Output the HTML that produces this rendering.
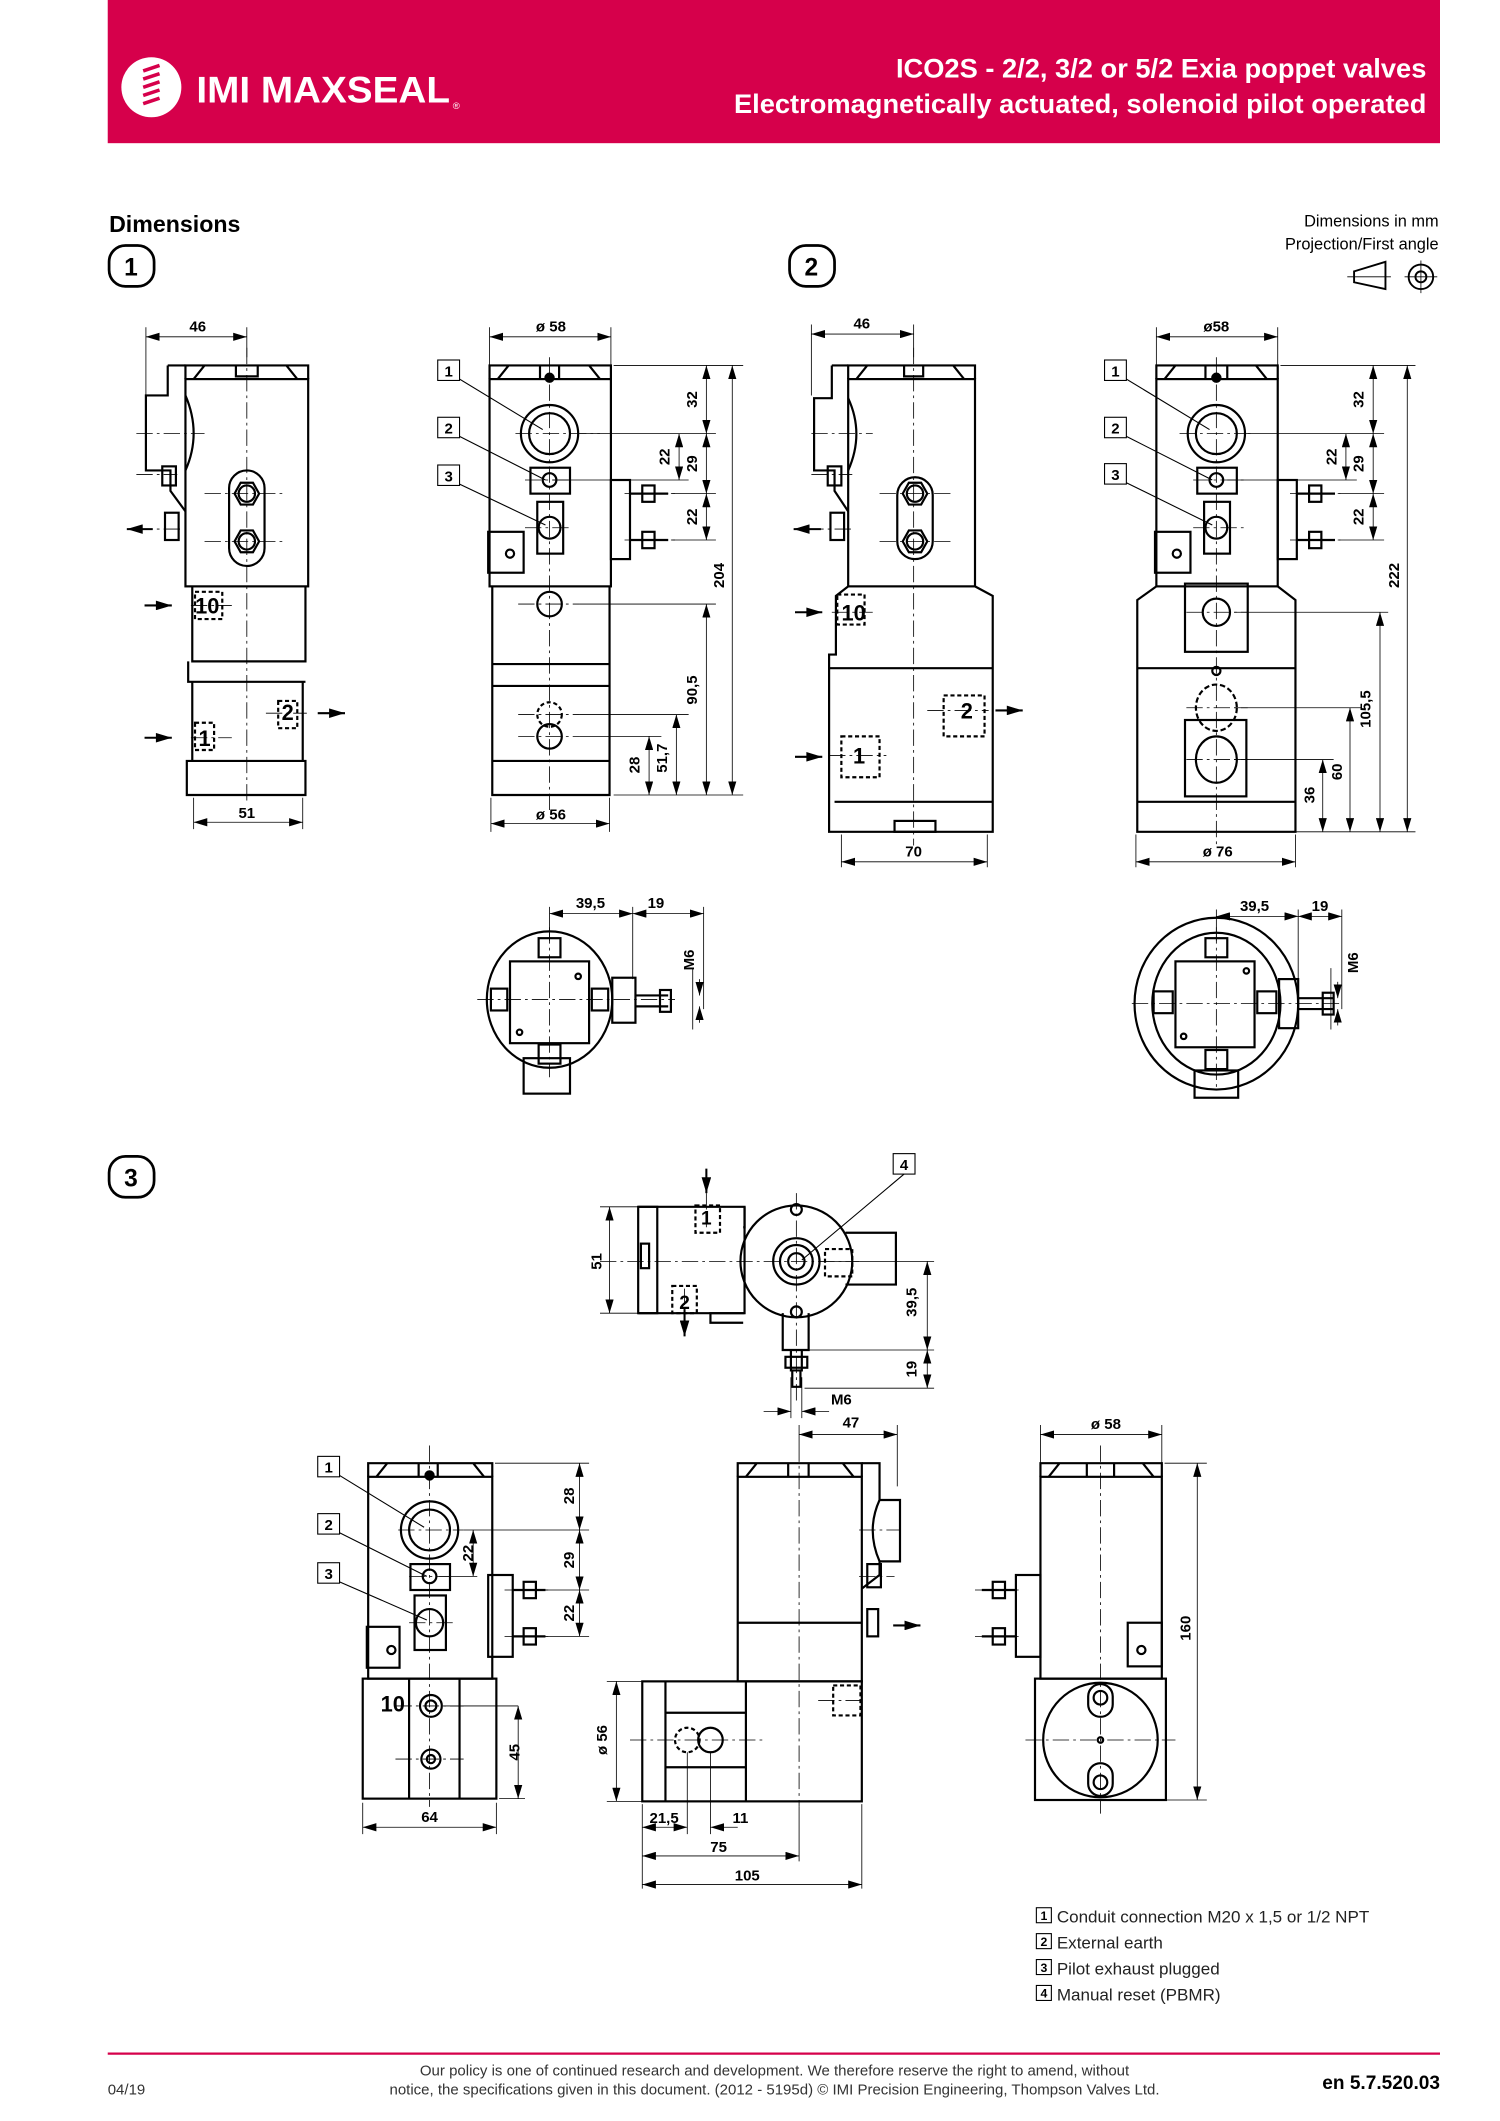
<!DOCTYPE html>
<html><head><meta charset="utf-8"><style>
html,body{margin:0;padding:0;background:#fff}
svg{display:block}
text{font-family:"Liberation Sans",Arial,sans-serif}
</style></head><body>
<svg width="1500" height="2121" viewBox="0 0 1100 1555.4" xmlns="http://www.w3.org/2000/svg">
<defs>
<marker id="a" viewBox="0 0 10 6" refX="10" refY="3" markerWidth="10" markerHeight="6" orient="auto-start-reverse" markerUnits="userSpaceOnUse"><path d="M0,0L10,3L0,6z" fill="#000"/></marker>
<marker id="b" viewBox="0 0 10 6" refX="10" refY="3" markerWidth="12" markerHeight="7" orient="auto" markerUnits="userSpaceOnUse"><path d="M0,0L10,3L0,6z" fill="#000"/></marker>
</defs>
<!-- header -->
<rect x="79" y="0" width="977" height="105" fill="#d6004b"/>
<circle cx="111" cy="64" r="22" fill="#fff"/>
<g stroke="#d6004b" stroke-width="2.6" fill="none"><path d="M105,52l12,-4M105,58l12,-4M105,64l12,-4M105,70l12,-4M105,76l12,-4"/></g>
<text x="144" y="75" font-size="27" font-weight="bold" fill="#fff" textLength="186" lengthAdjust="spacingAndGlyphs">IMI MAXSEAL</text>
<text x="332" y="80" font-size="7" fill="#fff">®</text>
<text x="1046" y="57" font-size="20" font-weight="bold" fill="#fff" text-anchor="end">ICO2S - 2/2, 3/2 or 5/2 Exia poppet valves</text>
<text x="1046" y="83" font-size="20" font-weight="bold" fill="#fff" text-anchor="end">Electromagnetically actuated, solenoid pilot operated</text>
<text x="80" y="170" font-size="17" font-weight="bold">Dimensions</text>
<text x="1055" y="166" font-size="12" text-anchor="end">Dimensions in mm</text>
<text x="1055" y="183" font-size="12" text-anchor="end">Projection/First angle</text>
<g fill="none" stroke="#000" stroke-width="1.4">
<path d="M993,199L1016,192L1016,212L993,207z"/><line x1="988" y1="203" x2="1020" y2="203" stroke-width="0.6"/>
<circle cx="1042" cy="203" r="9"/><circle cx="1042" cy="203" r="4"/><line x1="1030" y1="203" x2="1054" y2="203" stroke-width="0.6"/><line x1="1042" y1="191" x2="1042" y2="215" stroke-width="0.6"/>
<rect x="80" y="180" width="33" height="30" rx="12" stroke-width="2"/>
<rect x="579" y="180" width="33" height="30" rx="12" stroke-width="2"/>
<rect x="80" y="848" width="33" height="30" rx="12" stroke-width="2"/>
</g>
<g font-size="18" font-weight="bold" text-anchor="middle"><text x="96" y="202">1</text><text x="595" y="202">2</text><text x="96" y="870">3</text></g>

<g fill="none" stroke="#000" stroke-width="1.6">
<!-- ===== View 1a ===== -->
<path d="M136,278L136,268L226,268L226,278M142,278L150,268M218,278L210,268M173,268L173,276L189,276L189,268"/>
<rect x="136" y="278" width="90" height="152"/>
<path d="M123,268L136,268M123,268L123,290L107,290L107,345L125,345L125,360L136,375"/>
<path d="M136,290Q148,318 136,345"/>
<rect x="119" y="342" width="10" height="14"/><rect x="121" y="376" width="10" height="20"/>
<rect x="168" y="345" width="26" height="70" rx="13"/>
<circle cx="181" cy="362" r="6"/><circle cx="181" cy="397" r="6"/>
<path d="M172,362l4.5,-8h9l4.5,8l-4.5,8h-9z M172,397l4.5,-8h9l4.5,8l-4.5,8h-9z"/>
<path d="M141,430V485H224V430M138,485V500H224M141,500V558H222V500M137,558H224V583H137z"/>
<rect x="143" y="434" width="20" height="20" stroke-dasharray="3,2"/>
<rect x="143" y="530" width="14" height="20" stroke-dasharray="3,2"/>
<rect x="204" y="514" width="14" height="20" stroke-dasharray="3,2"/>
<!-- ===== View 1b ===== -->
<path d="M359,278L359,268L448,268L448,278M365,278L373,268M440,278L432,268M396,268V278M410,268V278"/>
<rect x="359" y="278" width="89" height="152"/>
<circle cx="403" cy="318" r="21"/><circle cx="403" cy="318" r="15"/>
<rect x="389" y="343" width="29" height="19"/><circle cx="403" cy="352" r="5"/>
<rect x="394" y="368" width="19" height="38"/><circle cx="403" cy="387" r="8"/>
<rect x="358" y="390" width="26" height="30"/><circle cx="374" cy="406" r="3"/>
<rect x="448" y="352" width="14" height="58"/>
<path d="M462,362H490M462,396H490"/><rect x="471" y="356" width="9" height="12"/><rect x="471" y="390" width="9" height="12"/>
<path d="M361,430V583H447V430M361,487H447M361,503H447M361,558H447"/>
<circle cx="403" cy="443" r="9"/><circle cx="403" cy="540" r="9"/><circle cx="403" cy="524" r="9" stroke-dasharray="3,2"/>
<circle cx="403" cy="277" r="3" fill="#000"/>
<!-- ===== View 2a ===== -->
<path d="M622,278L622,268L715,268L715,278M628,278L636,268M707,278L699,268M663,268V276H677V268"/>
<rect x="622" y="278" width="93" height="152"/>
<path d="M610,268H622M610,268V292H597V345H612V360L622,375"/>
<path d="M622,292Q634,318 622,345"/>
<rect x="607" y="342" width="10" height="14"/><rect x="609" y="376" width="10" height="20"/>
<rect x="658" y="350" width="26" height="60" rx="13"/>
<circle cx="671" cy="362" r="6"/><circle cx="671" cy="397" r="6"/>
<path d="M662,362l4.5,-8h9l4.5,8l-4.5,8h-9z M662,397l4.5,-8h9l4.5,8l-4.5,8h-9z"/>
<path d="M622,430L613,437V480H608V490H728V437L715,430M608,490V610H728V490M612,588H728"/>
<rect x="614" y="436" width="20" height="22" stroke-dasharray="3,2"/>
<rect x="617" y="540" width="28" height="30" stroke-dasharray="3,2"/>
<rect x="692" y="510" width="30" height="30" stroke-dasharray="3,2"/>
<rect x="656" y="602" width="30" height="8"/>
<!-- ===== View 2b ===== -->
<path d="M848,278L848,268L937,268L937,278M854,278L862,268M929,278L921,268M884,268V278M900,268V278"/>
<rect x="848" y="278" width="89" height="152"/>
<circle cx="892" cy="318" r="21"/><circle cx="892" cy="318" r="15"/>
<rect x="878" y="343" width="29" height="19"/><circle cx="892" cy="352" r="5"/>
<rect x="883" y="368" width="19" height="38"/><circle cx="892" cy="387" r="8"/>
<rect x="847" y="390" width="26" height="30"/><circle cx="863" cy="406" r="3"/>
<rect x="937" y="352" width="14" height="58"/>
<path d="M951,362H979M951,396H979"/><rect x="960" y="356" width="9" height="12"/><rect x="960" y="390" width="9" height="12"/>
<path d="M848,430L834,440V610H950V440L937,430M834,490H950M834,588H950"/>
<rect x="869" y="428" width="46" height="50"/>
<circle cx="892" cy="449" r="10"/><circle cx="892" cy="492" r="3"/>
<ellipse cx="892" cy="519" rx="15" ry="17" stroke-dasharray="4,2"/>
<rect x="869" y="528" width="45" height="56"/><ellipse cx="892" cy="557" rx="15" ry="17"/>
<circle cx="892" cy="277" r="3" fill="#000"/>
<!-- ===== circles bottom sec1 ===== -->
<ellipse cx="403" cy="733" rx="46" ry="50"/>
<rect x="374" y="705" width="58" height="60"/>
<rect x="395" y="688" width="16" height="14"/><rect x="395" y="766" width="16" height="14"/><rect x="384" y="776" width="34" height="26"/>
<rect x="360" y="725" width="12" height="16"/><rect x="434" y="725" width="12" height="16"/>
<rect x="449" y="717" width="17" height="33"/><path d="M466,730H490M466,738H490"/><rect x="484" y="726" width="8" height="16"/>
<circle cx="424" cy="716" r="2"/><circle cx="381" cy="757" r="2"/>
<!-- sec2 circle -->
<ellipse cx="892" cy="736" rx="60" ry="63"/><ellipse cx="892" cy="736" rx="47" ry="52"/>
<rect x="862" y="705" width="58" height="63"/>
<rect x="884" y="688" width="16" height="14"/><rect x="884" y="770" width="16" height="14"/><rect x="876" y="785" width="32" height="20"/>
<rect x="846" y="727" width="14" height="16"/><rect x="922" y="727" width="14" height="16"/>
<rect x="938" y="718" width="14" height="36"/><path d="M952,732H978M952,740H978"/><rect x="970" y="728" width="8" height="16"/>
<circle cx="914" cy="712" r="2"/><circle cx="868" cy="760" r="2"/>
<!-- ===== Section 3 top view ===== -->
<path d="M468,885H546V900H545M468,963H546"/><rect x="468" y="885" width="14" height="78"/><rect x="470" y="912" width="6" height="18"/>
<path d="M546,885V963H521V970H545"/>
<circle cx="584" cy="925" r="41"/><circle cx="584" cy="925" r="17"/><circle cx="584" cy="925" r="12"/><circle cx="584" cy="925" r="6"/>
<circle cx="584" cy="887" r="4"/><circle cx="584" cy="962" r="4"/>
<path d="M620,904H657V942H620"/><rect x="605" y="916" width="20" height="20" stroke-dasharray="3,2"/>
<path d="M574,963V990H593V963M580,990V1005H588V990"/><rect x="576" y="995" width="16" height="8"/><path d="M581,1005V1017H587V1005"/>
<rect x="510" y="884" width="18" height="20" stroke-dasharray="3,2"/><rect x="493" y="943" width="18" height="20" stroke-dasharray="3,2"/>
<!-- ===== 3a ===== -->
<path d="M270,1083V1073H361V1083M276,1083L284,1073M355,1083L347,1073M307,1073V1083M321,1073V1083"/>
<rect x="270" y="1083" width="91" height="148"/>
<circle cx="315" cy="1122" r="21"/><circle cx="315" cy="1122" r="15"/>
<rect x="301" y="1147" width="29" height="19"/><circle cx="315" cy="1156" r="5"/>
<rect x="304" y="1170" width="23" height="40"/><circle cx="315" cy="1190" r="10"/>
<rect x="269" y="1193" width="24" height="30"/><circle cx="287" cy="1210" r="3"/>
<rect x="358" y="1155" width="18" height="60"/><path d="M376,1166H400M376,1200H400"/><rect x="384" y="1160" width="9" height="12"/><rect x="384" y="1194" width="9" height="12"/>
<rect x="266" y="1231" width="98" height="88"/><path d="M300,1231V1319M337,1231V1319"/>
<circle cx="316" cy="1251" r="8"/><circle cx="316" cy="1251" r="4"/><circle cx="316" cy="1290" r="7"/><circle cx="316" cy="1290" r="3"/>
<circle cx="315" cy="1082" r="3" fill="#000"/>
<!-- ===== 3b ===== -->
<path d="M541,1083V1073H632V1083M547,1083L555,1073M626,1083L618,1073M578,1073V1083M593,1073V1083"/>
<rect x="541" y="1083" width="91" height="150"/><path d="M541,1190H632"/>
<path d="M632,1073H645V1100H660V1145H645V1155L632,1165"/><path d="M645,1100Q635,1122 645,1145"/>
<rect x="636" y="1147" width="10" height="17"/><rect x="636" y="1180" width="8" height="20"/>
<rect x="471" y="1233" width="161" height="88"/><path d="M547,1233V1321M488,1233V1321M488,1256H547M488,1296H547"/>
<circle cx="504" cy="1276" r="9" stroke-dasharray="3,2"/><circle cx="521" cy="1276" r="9"/>
<rect x="611" y="1236" width="20" height="22" stroke-dasharray="3,2"/>
<!-- ===== 3c ===== -->
<path d="M763,1083V1073H852V1083M769,1083L777,1073M846,1083L838,1073M797,1073V1083M817,1073V1083"/>
<rect x="763" y="1083" width="89" height="148"/>
<rect x="827" y="1190" width="25" height="32"/><circle cx="837" cy="1210" r="3"/>
<rect x="745" y="1155" width="18" height="60"/><path d="M720,1166H745M720,1200H745"/><rect x="728" y="1160" width="9" height="12"/><rect x="728" y="1194" width="9" height="12"/>
<rect x="759" y="1231" width="96" height="89"/><circle cx="807" cy="1276" r="42"/>
<rect x="798" y="1235" width="18" height="24" rx="9"/><circle cx="807" cy="1245" r="5"/>
<rect x="798" y="1293" width="18" height="24" rx="9"/><circle cx="807" cy="1307" r="5"/><circle cx="807" cy="1276" r="2"/>
</g>

<!-- center lines -->
<g stroke="#000" stroke-width="0.6" stroke-dasharray="12,3,2,3" fill="none">
<path d="M181,255V590M100,318H150M100,348H130M100,388H135M150,362H210M150,397H210M140,444H170M140,541H170M195,523H225"/>
<path d="M403,262V595M378,318H440M385,352H420M385,387H420M380,443H425M380,524H425M380,540H425M458,362H495M458,396H495"/>
<path d="M670,255V620M595,318H640M595,348H625M592,388H625M645,362H700M645,397H700M610,449H640M608,554H650M680,521H725"/>
<path d="M892,262V620M865,318H920M875,352H912M875,387H912M870,449H915M870,519H915M870,557H915M946,362H985M946,396H985"/>
<path d="M403,680V790M350,733H495M892,680V800M830,736H985"/>
<path d="M584,875V1030M440,925H630M518,875V900M502,945V975"/>
<path d="M315,1060V1325M292,1122H340M300,1156H330M300,1190H332M370,1166H402M370,1200H402M290,1251H340M290,1290H340"/>
<path d="M586,1060V1325M462,1276H560M630,1122H660M630,1156H656M600,1247H635"/>
<path d="M807,1060V1330M752,1276H862M715,1166H750M715,1200H750"/>
</g>

<!-- flow arrows -->
<g stroke="#000" stroke-width="1.5">
<line x1="112" y1="388" x2="93" y2="388" marker-end="url(#b)"/>
<line x1="106" y1="444" x2="126" y2="444" marker-end="url(#b)"/>
<line x1="106" y1="541" x2="126" y2="541" marker-end="url(#b)"/>
<line x1="233" y1="523" x2="253" y2="523" marker-end="url(#b)"/>
<line x1="602" y1="388" x2="582" y2="388" marker-end="url(#b)"/>
<line x1="583" y1="449" x2="603" y2="449" marker-end="url(#b)"/>
<line x1="583" y1="555" x2="603" y2="555" marker-end="url(#b)"/>
<line x1="730" y1="521" x2="750" y2="521" marker-end="url(#b)"/>
<line x1="518" y1="857" x2="518" y2="875" marker-end="url(#b)"/>
<line x1="502" y1="960" x2="502" y2="980" marker-end="url(#b)"/>
<line x1="655" y1="1192" x2="675" y2="1192" marker-end="url(#b)"/>
</g>

<!-- dimension lines -->
<g stroke="#000" stroke-width="0.6" fill="none">
<path d="M107,240V290M181,240V262M142,585V608M222,585V608M359,240V268M448,240V268M360,585V610M447,585V610"/>
<line x1="107" y1="247" x2="181" y2="247" marker-start="url(#a)" marker-end="url(#a)"/>
<line x1="142" y1="603" x2="222" y2="603" marker-start="url(#a)" marker-end="url(#a)"/>
<line x1="359" y1="247" x2="448" y2="247" marker-start="url(#a)" marker-end="url(#a)"/>
<line x1="360" y1="604" x2="447" y2="604" marker-start="url(#a)" marker-end="url(#a)"/>
<path d="M450,268H545M425,318H525M405,352H505M492,362H525M492,396H525M425,443H525M425,524H505M425,540H485M450,583H545"/>
<line x1="518" y1="268" x2="518" y2="318" marker-start="url(#a)" marker-end="url(#a)"/>
<line x1="518" y1="318" x2="518" y2="362" marker-start="url(#a)" marker-end="url(#a)"/>
<line x1="518" y1="362" x2="518" y2="396" marker-start="url(#a)" marker-end="url(#a)"/>
<line x1="498" y1="318" x2="498" y2="352" marker-start="url(#a)" marker-end="url(#a)"/>
<line x1="537" y1="268" x2="537" y2="583" marker-start="url(#a)" marker-end="url(#a)"/>
<line x1="518" y1="443" x2="518" y2="583" marker-start="url(#a)" marker-end="url(#a)"/>
<line x1="496" y1="524" x2="496" y2="583" marker-start="url(#a)" marker-end="url(#a)"/>
<line x1="476" y1="540" x2="476" y2="583" marker-start="url(#a)" marker-end="url(#a)"/>
<path d="M595,238V290M670,238V262M617,612V636M724,612V636"/>
<line x1="595" y1="245" x2="670" y2="245" marker-start="url(#a)" marker-end="url(#a)"/>
<line x1="617" y1="632" x2="724" y2="632" marker-start="url(#a)" marker-end="url(#a)"/>
<path d="M848,240V268M937,240V268M833,612V636M950,612V636"/>
<line x1="848" y1="247" x2="937" y2="247" marker-start="url(#a)" marker-end="url(#a)"/>
<line x1="833" y1="632" x2="950" y2="632" marker-start="url(#a)" marker-end="url(#a)"/>
<path d="M939,268H1038M915,318H1015M900,352H995M982,362H1015M982,396H1015M905,449H1018M905,519H998M905,557H978M950,610H1038"/>
<line x1="1007" y1="268" x2="1007" y2="318" marker-start="url(#a)" marker-end="url(#a)"/>
<line x1="1007" y1="318" x2="1007" y2="362" marker-start="url(#a)" marker-end="url(#a)"/>
<line x1="1007" y1="362" x2="1007" y2="396" marker-start="url(#a)" marker-end="url(#a)"/>
<line x1="987" y1="318" x2="987" y2="352" marker-start="url(#a)" marker-end="url(#a)"/>
<line x1="1032" y1="268" x2="1032" y2="610" marker-start="url(#a)" marker-end="url(#a)"/>
<line x1="1012" y1="449" x2="1012" y2="610" marker-start="url(#a)" marker-end="url(#a)"/>
<line x1="990" y1="519" x2="990" y2="610" marker-start="url(#a)" marker-end="url(#a)"/>
<line x1="970" y1="557" x2="970" y2="610" marker-start="url(#a)" marker-end="url(#a)"/>
<path d="M403,665V690M464,665V718M516,665V740M508,710V755M892,667V690M952,667V718M984,667V740M976,710V755"/>
<line x1="403" y1="670" x2="464" y2="670" marker-start="url(#a)" marker-end="url(#a)"/>
<line x1="464" y1="670" x2="516" y2="670" marker-start="url(#a)" marker-end="url(#a)"/>
<line x1="892" y1="672" x2="952" y2="672" marker-start="url(#a)" marker-end="url(#a)"/>
<line x1="952" y1="672" x2="984" y2="672" marker-start="url(#a)" marker-end="url(#a)"/>
<line x1="513" y1="718" x2="513" y2="730" marker-end="url(#a)"/><line x1="513" y1="750" x2="513" y2="738" marker-end="url(#a)"/>
<line x1="981" y1="720" x2="981" y2="732" marker-end="url(#a)"/><line x1="981" y1="752" x2="981" y2="740" marker-end="url(#a)"/>
<path d="M440,885H468M440,963H468M590,990H685M590,1018H685M600,925H685"/>
<line x1="447" y1="885" x2="447" y2="963" marker-start="url(#a)" marker-end="url(#a)"/>
<line x1="680" y1="925" x2="680" y2="990" marker-start="url(#a)" marker-end="url(#a)"/>
<line x1="680" y1="990" x2="680" y2="1018" marker-start="url(#a)" marker-end="url(#a)"/>
<line x1="560" y1="1035" x2="580" y2="1035" marker-end="url(#a)"/><line x1="608" y1="1035" x2="588" y2="1035" marker-end="url(#a)"/>
<path d="M580,1010V1040M588,1010V1040M586,1045V1060M658,1045V1090"/>
<line x1="586" y1="1052" x2="658" y2="1052" marker-start="url(#a)" marker-end="url(#a)"/>
<path d="M363,1073H432M340,1122H432M322,1156H350M378,1166H432M378,1200H432M325,1251H380M366,1319H385M266,1322V1345M364,1322V1345"/>
<line x1="425" y1="1073" x2="425" y2="1122" marker-start="url(#a)" marker-end="url(#a)"/>
<line x1="425" y1="1122" x2="425" y2="1166" marker-start="url(#a)" marker-end="url(#a)"/>
<line x1="425" y1="1166" x2="425" y2="1200" marker-start="url(#a)" marker-end="url(#a)"/>
<line x1="347" y1="1122" x2="347" y2="1156" marker-start="url(#a)" marker-end="url(#a)"/>
<line x1="380" y1="1251" x2="380" y2="1319" marker-start="url(#a)" marker-end="url(#a)"/>
<line x1="266" y1="1340" x2="364" y2="1340" marker-start="url(#a)" marker-end="url(#a)"/>
<path d="M445,1233H471M445,1321H471M471,1323V1385M504,1285V1345M521,1285V1345M632,1323V1385M586,1325V1365"/>
<line x1="452" y1="1233" x2="452" y2="1321" marker-start="url(#a)" marker-end="url(#a)"/>
<line x1="471" y1="1340" x2="504" y2="1340" marker-start="url(#a)" marker-end="url(#a)"/>
<line x1="541" y1="1340" x2="521" y2="1340" marker-end="url(#a)"/>
<line x1="471" y1="1361" x2="586" y2="1361" marker-start="url(#a)" marker-end="url(#a)"/>
<line x1="471" y1="1382" x2="632" y2="1382" marker-start="url(#a)" marker-end="url(#a)"/>
<path d="M763,1045V1073M852,1045V1073M854,1073H885M855,1320H885"/>
<line x1="763" y1="1052" x2="852" y2="1052" marker-start="url(#a)" marker-end="url(#a)"/>
<line x1="878" y1="1073" x2="878" y2="1320" marker-start="url(#a)" marker-end="url(#a)"/>
</g>

<!-- callout boxes & leaders -->
<g fill="#fff" stroke="#000" stroke-width="0.8">
<rect x="321" y="264" width="16" height="15"/><rect x="321" y="306" width="16" height="15"/><rect x="321" y="341" width="16" height="15"/>
<rect x="810" y="264" width="16" height="15"/><rect x="810" y="306" width="16" height="15"/><rect x="810" y="340" width="16" height="15"/>
<rect x="233" y="1068" width="16" height="15"/><rect x="233" y="1110" width="16" height="15"/><rect x="233" y="1146" width="16" height="15"/>
<rect x="655" y="846" width="16" height="15"/>
<path fill="none" d="M337,278L398,315M337,320L400,352M337,355L400,385M826,278L887,315M826,320L889,352M826,354L889,385M249,1082L311,1120M249,1124L313,1156M249,1160L313,1188M663,861L588,924"/>
</g>
<g font-size="11" font-weight="bold" text-anchor="middle">
<text x="329" y="276">1</text><text x="329" y="318">2</text><text x="329" y="353">3</text>
<text x="818" y="276">1</text><text x="818" y="318">2</text><text x="818" y="352">3</text>
<text x="241" y="1080">1</text><text x="241" y="1122">2</text><text x="241" y="1158">3</text>
<text x="663" y="858">4</text>
</g>

<g font-size="11" font-weight="bold" text-anchor="middle">
<text x="145" y="243">46</text><text x="181" y="600">51</text><text x="404" y="243">ø 58</text><text x="404" y="601">ø 56</text>
<text x="632" y="241">46</text><text x="670" y="628">70</text><text x="892" y="243">ø58</text><text x="893" y="628">ø 76</text>
<text x="433" y="666">39,5</text><text x="481" y="666">19</text><text x="920" y="668">39,5</text><text x="968" y="668">19</text>
<text x="617" y="1030">M6</text><text x="624" y="1047">47</text><text x="811" y="1048">ø 58</text>
<text x="315" y="1336">64</text><text x="487" y="1337">21,5</text><text x="543" y="1337">11</text><text x="527" y="1358">75</text><text x="548" y="1379">105</text>
<text font-size="16" x="152" y="450">10</text><text font-size="16" x="211" y="528">2</text><text font-size="16" x="150" y="547">1</text>
<text font-size="16" x="626" y="455">10</text><text font-size="16" x="709" y="527">2</text><text font-size="16" x="630" y="560">1</text>
<text font-size="14" x="518" y="898">1</text><text font-size="14" x="502" y="960">2</text>
<text font-size="16" x="288" y="1255">10</text>
</g>
<g font-size="11" font-weight="bold" text-anchor="middle">
<text transform="translate(511,293) rotate(-90)">32</text><text transform="translate(511,340) rotate(-90)">29</text><text transform="translate(511,379) rotate(-90)">22</text><text transform="translate(491,335) rotate(-90)">22</text>
<text transform="translate(531,422) rotate(-90)">204</text><text transform="translate(511,506) rotate(-90)">90,5</text><text transform="translate(489,556) rotate(-90)">51,7</text><text transform="translate(469,561) rotate(-90)">28</text>
<text transform="translate(1000,293) rotate(-90)">32</text><text transform="translate(1000,340) rotate(-90)">29</text><text transform="translate(1000,379) rotate(-90)">22</text><text transform="translate(980,335) rotate(-90)">22</text>
<text transform="translate(1026,422) rotate(-90)">222</text><text transform="translate(1005,520) rotate(-90)">105,5</text><text transform="translate(984,566) rotate(-90)">60</text><text transform="translate(964,583) rotate(-90)">36</text>
<text transform="translate(509,704) rotate(-90)">M6</text><text transform="translate(996,706) rotate(-90)">M6</text>
<text transform="translate(441,925) rotate(-90)">51</text><text transform="translate(672,955) rotate(-90)">39,5</text><text transform="translate(672,1004) rotate(-90)">19</text>
<text transform="translate(421,1097) rotate(-90)">28</text><text transform="translate(421,1144) rotate(-90)">29</text><text transform="translate(421,1183) rotate(-90)">22</text><text transform="translate(347,1139) rotate(-90)">22</text>
<text transform="translate(381,1285) rotate(-90)">45</text><text transform="translate(445,1276) rotate(-90)">ø 56</text><text transform="translate(873,1194) rotate(-90)">160</text>
</g>

<!-- legend -->
<g fill="none" stroke="#000" stroke-width="0.8">
<rect x="760" y="1399" width="11" height="11"/><rect x="760" y="1418" width="11" height="11"/><rect x="760" y="1437" width="11" height="11"/><rect x="760" y="1456" width="11" height="11"/>
</g>
<g font-size="9" font-weight="bold" text-anchor="middle"><text x="765.5" y="1408">1</text><text x="765.5" y="1427">2</text><text x="765.5" y="1446">3</text><text x="765.5" y="1465">4</text></g>
<g font-size="12.5" fill="#222"><text x="775" y="1410">Conduit connection M20 x 1,5 or 1/2 NPT</text><text x="775" y="1429">External earth</text><text x="775" y="1448">Pilot exhaust plugged</text><text x="775" y="1467">Manual reset (PBMR)</text></g>

<!-- footer -->
<line x1="79" y1="1506" x2="1056" y2="1506" stroke="#d6004b" stroke-width="1.6"/>
<text x="79" y="1536" font-size="11" fill="#333">04/19</text>
<text x="568" y="1522" font-size="11" fill="#333" text-anchor="middle">Our policy is one of continued research and development. We therefore reserve the right to amend, without</text>
<text x="568" y="1536" font-size="11" fill="#333" text-anchor="middle">notice, the specifications given in this document. (2012 - 5195d) © IMI Precision Engineering, Thompson Valves Ltd.</text>
<text x="1056" y="1532" font-size="14" font-weight="bold" text-anchor="end">en 5.7.520.03</text>
</svg>
</body></html>
